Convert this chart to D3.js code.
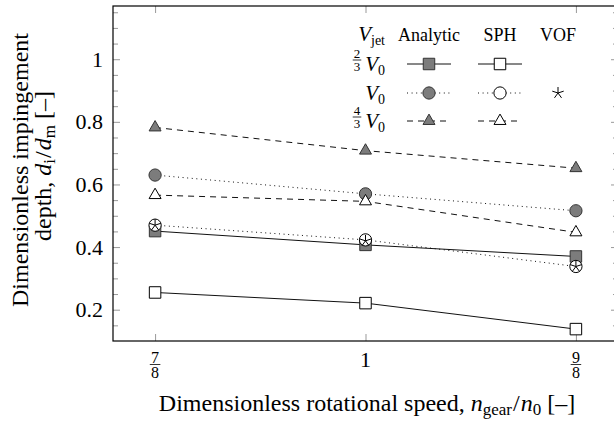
<!DOCTYPE html>
<html>
<head>
<meta charset="utf-8">
<script src="https://cdn.jsdelivr.net/npm/d3@7"></script>
<style>
body { margin: 0; background: #fff; }
</style>
</head>
<body>
<div id="chart"></div>
<script>
// speeds n_gear/n_0 and the tick labels (as fractions)
const speeds = [7/8, 1, 9/8];
const speedLabels = [["7", "8"], ["1"], ["9", "8"]];

// impingement depth d_i/d_m
const analytic23 = [0.451, 0.407, 0.370];
const analytic1  = [0.630, 0.570, 0.516];
const analytic43 = [0.782, 0.708, 0.652];
const sph23 = [0.255, 0.221, 0.138];
const sph1  = [0.470, 0.423, 0.338];
const sph43 = [0.566, 0.546, 0.447];
const vof1  = [0.470, 0.420, 0.338];

const yTicks = [0.2, 0.4, 0.6, 0.8, 1];
const yTickLabels = ["0.2", "0.4", "0.6", "0.8", "1"];
const yMinor = [0.15, 0.25, 0.3, 0.35, 0.45, 0.5, 0.55, 0.65, 0.7, 0.75, 0.85, 0.9, 0.95, 1.05, 1.1, 1.15];

const serif = '"Liberation Serif", serif';

let svgWidth = 614;
let svgHeight = 426;
let margin = { top: 6, left: 113 };
let width = 505;
let height = 335;

let svg = d3.select("#chart")
    .append("svg")
    .attr("width", svgWidth)
    .attr("height", svgHeight);

let chart = svg.append("g")
    .attr("transform", `translate(${margin.left}, ${margin.top})`);

let x = d3.scaleLinear().domain([0.85, 1.15]).range([0, width]);
let y = d3.scaleLinear().domain([0.1, 1.17]).range([height, 0]);

// ticks (inward, gray)
function styleAxis(g) {
    g.select(".domain").remove();
    g.selectAll(".tick line").attr("stroke", "#999").attr("stroke-width", 1);
}
chart.append("g")
    .call(d3.axisLeft(y).tickValues(yTicks).tickSize(-7).tickPadding(10)
        .tickFormat((d, i) => yTickLabels[i]))
    .call(styleAxis)
    .selectAll("text")
    .style("font-size", "22px")
    .attr("fill", "#000");
chart.append("g")
    .call(d3.axisLeft(y).tickValues(yMinor).tickSize(-5).tickFormat(""))
    .call(styleAxis);
chart.append("g")
    .attr("transform", `translate(${width},0)`)
    .call(d3.axisRight(y).tickValues(yTicks).tickSize(-7).tickFormat(""))
    .call(styleAxis);
chart.append("g")
    .attr("transform", `translate(${width},0)`)
    .call(d3.axisRight(y).tickValues(yMinor).tickSize(-5).tickFormat(""))
    .call(styleAxis);
chart.append("g")
    .attr("transform", `translate(0,${height})`)
    .call(d3.axisBottom(x).tickValues(speeds).tickSize(-7).tickFormat(""))
    .call(styleAxis);
chart.append("g")
    .call(d3.axisTop(x).tickValues(speeds).tickSize(-7).tickFormat(""))
    .call(styleAxis);

// frame
chart.append("rect")
    .attr("width", width).attr("height", height)
    .attr("fill", "none").attr("stroke", "#000").attr("stroke-width", 1.2);

// stacked fraction: one text with two tspans, plus the bar
function frac(g, cx, barY, num, den, size) {
    let t = g.append("text").attr("text-anchor", "middle").style("font-size", size + "px");
    t.append("tspan").attr("x", cx).attr("y", barY - 2).text(num);
    t.append("tspan").attr("x", cx).attr("y", barY + size * 0.82).text(den);
    g.append("line").attr("x1", cx - size * 0.33).attr("x2", cx + size * 0.33)
        .attr("y1", barY).attr("y2", barY).attr("stroke", "#000").attr("stroke-width", 0.8);
}

// x tick labels
speeds.forEach((s, i) => {
    let lab = speedLabels[i];
    if (lab.length === 2) {
        frac(chart, x(s), height + 23.5, lab[0], lab[1], 16);
    } else {
        chart.append("text").attr("x", x(s)).attr("y", height + 26)
            .attr("text-anchor", "middle").style("font-size", "22px").text(lab[0]);
    }
});

// markers
const gray = "#7c7c7c";
const shapes = {
    square: d3.symbol().type(d3.symbolSquare).size(132)(),
    circle: d3.symbol().type(d3.symbolCircle).size(118)(),
    triangle: d3.symbol().type(d3.symbolTriangle).size(62)()
};
function starPath(r) {
    let p = "";
    for (let k = 0; k < 5; k++) {
        let a = -Math.PI / 2 + k * 2 * Math.PI / 5;
        p += `M0,0L${r * Math.cos(a)},${r * Math.sin(a)}`;
    }
    return p;
}

const series = [
    { values: sph23, dash: null, shape: "square", filled: false },
    { values: analytic23, dash: null, shape: "square", filled: true },
    { values: sph1, dash: "1,3.6", shape: "circle", filled: false },
    { values: analytic1, dash: "1,3.6", shape: "circle", filled: true },
    { values: sph43, dash: "6,5", shape: "triangle", filled: false },
    { values: analytic43, dash: "6,5", shape: "triangle", filled: true }
];

let line = d3.line().x((d, i) => x(speeds[i])).y(d => y(d));

series.forEach(s => {
    chart.append("path")
        .datum(s.values)
        .attr("d", line)
        .attr("fill", "none")
        .attr("stroke", "#111")
        .attr("stroke-width", 1)
        .attr("stroke-dasharray", s.dash);
});
series.forEach(s => {
    chart.selectAll(null)
        .data(s.values)
        .enter()
        .append("path")
        .attr("d", shapes[s.shape])
        .attr("transform", (d, i) => `translate(${x(speeds[i])},${y(d)})`)
        .attr("fill", s.filled ? gray : "#fff")
        .attr("stroke", s.filled ? "#333" : "#000")
        .attr("stroke-width", 1);
});
chart.selectAll(null)
    .data(vof1)
    .enter()
    .append("path")
    .attr("d", starPath(6))
    .attr("transform", (d, i) => `translate(${x(speeds[i])},${y(d)})`)
    .attr("fill", "none")
    .attr("stroke", "#000")
    .attr("stroke-width", 1);

// legend
let legend = svg.append("g");
function mathV(g, xEnd, yBase, sub) {
    let t = g.append("text").attr("x", xEnd).attr("y", yBase)
        .attr("text-anchor", "end").style("font-size", "21px");
    t.append("tspan").style("font-style", "italic").text("V");
    t.append("tspan").attr("dy", 4).style("font-size", "14px").text(sub);
}
legend.call(mathV, 385, 41, "jet");
legend.append("text").attr("x", 429).attr("y", 41).attr("text-anchor", "middle")
    .style("font-size", "18px").text("Analytic");
legend.append("text").attr("x", 500).attr("y", 41).attr("text-anchor", "middle")
    .style("font-size", "18px").text("SPH");
legend.append("text").attr("x", 558).attr("y", 41).attr("text-anchor", "middle")
    .style("font-size", "18px").text("VOF");

const legendRows = [
    { frac: ["2", "3"], y: 64, a: series[1], s: series[0] },
    { frac: null, y: 93, a: series[3], s: series[2] },
    { frac: ["4", "3"], y: 121, a: series[5], s: series[4] }
];
legendRows.forEach(r => {
    legend.call(mathV, 385, r.y + 7, "0");
    if (r.frac) frac(legend, 357, r.y - 4, r.frac[0], r.frac[1], 13);
    [[r.a, 429], [r.s, 500]].forEach(([s, cx]) => {
        legend.append("line").attr("x1", cx - 22).attr("x2", cx + 22)
            .attr("y1", r.y).attr("y2", r.y)
            .attr("stroke", "#111").attr("stroke-width", 1)
            .attr("stroke-dasharray", s.dash);
        legend.append("path").attr("d", shapes[s.shape])
            .attr("transform", `translate(${cx},${r.y})`)
            .attr("fill", s.filled ? gray : "#fff")
            .attr("stroke", s.filled ? "#333" : "#000");
    });
});
legend.append("path").attr("d", starPath(6))
    .attr("transform", "translate(558,93)")
    .attr("fill", "none").attr("stroke", "#000");

// axis labels
let xl = svg.append("text").attr("x", 367).attr("y", 411)
    .attr("text-anchor", "middle").style("font-size", "24px");
xl.append("tspan").text("Dimensionless rotational speed, ");
xl.append("tspan").style("font-style", "italic").text("n");
xl.append("tspan").attr("dy", 4).style("font-size", "17px").text("gear");
xl.append("tspan").attr("dy", -4).attr("dx", 1).text("/");
xl.append("tspan").attr("dx", 1).style("font-style", "italic").text("n");
xl.append("tspan").attr("dy", 4).style("font-size", "17px").text("0");
xl.append("tspan").attr("dy", -4).text(" [\u2013]");

svg.append("text")
    .attr("transform", "translate(28,170) rotate(-90)")
    .attr("text-anchor", "middle").style("font-size", "24px")
    .text("Dimensionless impingement");
let yl = svg.append("text")
    .attr("transform", "translate(51,166) rotate(-90)")
    .attr("text-anchor", "middle").style("font-size", "24px");
yl.append("tspan").text("depth, ");
yl.append("tspan").style("font-style", "italic").text("d");
yl.append("tspan").attr("dy", 4).style("font-size", "17px").text("i");
yl.append("tspan").attr("dy", -4).attr("dx", 1).text("/");
yl.append("tspan").attr("dx", 1).style("font-style", "italic").text("d");
yl.append("tspan").attr("dy", 4).style("font-size", "17px").text("m");
yl.append("tspan").attr("dy", -4).text(" [\u2013]");

// serif everywhere, like the paper
svg.selectAll("text").style("font-family", serif).attr("fill", "#000");
</script>
</body>
</html>
